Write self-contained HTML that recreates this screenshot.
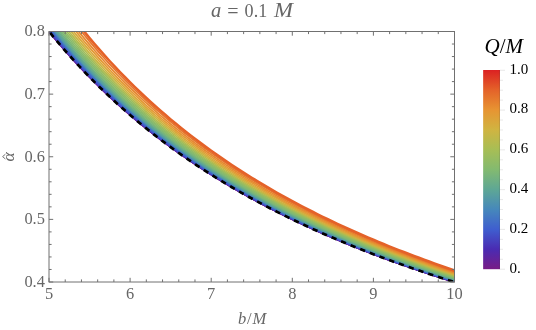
<!DOCTYPE html>
<html><head><meta charset="utf-8"><title>plot</title>
<style>
html,body{margin:0;padding:0;background:#fff;}
body{width:536px;height:330px;overflow:hidden;font-family:"Liberation Serif",serif;}
svg{display:block;will-change:transform;}
text{font-family:"Liberation Serif",serif;}
</style></head><body>
<svg width="536" height="330" viewBox="0 0 536 330">
<defs>
<clipPath id="pc"><rect x="49.00" y="31.50" width="405.50" height="250.50"/></clipPath>
<linearGradient id="cb" x1="0" y1="1" x2="0" y2="0">
<stop offset="0.00" stop-color="#781c86"/><stop offset="0.10" stop-color="#4a2bb2"/><stop offset="0.20" stop-color="#3f5ecf"/><stop offset="0.30" stop-color="#4688bb"/><stop offset="0.40" stop-color="#5ea795"/><stop offset="0.50" stop-color="#83ba70"/><stop offset="0.60" stop-color="#a7be55"/><stop offset="0.70" stop-color="#d0b441"/><stop offset="0.80" stop-color="#e79432"/><stop offset="0.90" stop-color="#e46229"/><stop offset="1.00" stop-color="#db2122"/></linearGradient>
</defs>
<rect x="0" y="0" width="536" height="330" fill="#ffffff"/>
<g clip-path="url(#pc)" fill="none" stroke-linejoin="round">
<path d="M49.00 31.50 L54.07 37.69 L59.14 43.72 L64.21 49.61 L69.28 55.36 L74.34 60.97 L79.41 66.45 L84.48 71.81 L89.55 77.05 L94.62 82.16 L99.69 87.17 L104.76 92.06 L109.83 96.85 L114.89 101.53 L119.96 106.12 L125.03 110.61 L130.10 115.00 L135.17 119.30 L140.24 123.52 L145.31 127.65 L150.38 131.70 L155.44 135.67 L160.51 139.56 L165.58 143.37 L170.65 147.12 L175.72 150.79 L180.79 154.39 L185.86 157.92 L190.93 161.39 L195.99 164.79 L201.06 168.14 L206.13 171.42 L211.20 174.64 L216.27 177.81 L221.34 180.92 L226.41 183.98 L231.47 186.98 L236.54 189.94 L241.61 192.84 L246.68 195.69 L251.75 198.50 L256.82 201.26 L261.89 203.98 L266.96 206.65 L272.02 209.27 L277.09 211.86 L282.16 214.40 L287.23 216.91 L292.30 219.38 L297.37 221.80 L302.44 224.19 L307.51 226.55 L312.57 228.86 L317.64 231.15 L322.71 233.40 L327.78 235.61 L332.85 237.79 L337.92 239.95 L342.99 242.07 L348.06 244.15 L353.12 246.21 L358.19 248.24 L363.26 250.25 L368.33 252.22 L373.40 254.17 L378.47 256.09 L383.54 257.98 L388.61 259.85 L393.68 261.69 L398.74 263.51 L403.81 265.30 L408.88 267.07 L413.95 268.82 L419.02 270.54 L424.09 272.24 L429.16 273.92 L434.23 275.58 L439.29 277.21 L444.36 278.83 L449.43 280.42 L454.50 282.00" stroke="#781c86" stroke-width="1.70"/>
<path d="M49.00 31.46 L54.07 37.65 L59.14 43.68 L64.21 49.57 L69.28 55.32 L74.34 60.94 L79.41 66.42 L84.48 71.78 L89.55 77.01 L94.62 82.13 L99.69 87.14 L104.76 92.03 L109.83 96.82 L114.89 101.50 L119.96 106.09 L125.03 110.58 L130.10 114.97 L135.17 119.28 L140.24 123.49 L145.31 127.63 L150.38 131.67 L155.44 135.64 L160.51 139.53 L165.58 143.35 L170.65 147.09 L175.72 150.76 L180.79 154.36 L185.86 157.90 L190.93 161.37 L195.99 164.77 L201.06 168.12 L206.13 171.40 L211.20 174.62 L216.27 177.79 L221.34 180.90 L226.41 183.96 L231.47 186.96 L236.54 189.92 L241.61 192.82 L246.68 195.68 L251.75 198.48 L256.82 201.24 L261.89 203.96 L266.96 206.63 L272.02 209.26 L277.09 211.84 L282.16 214.39 L287.23 216.89 L292.30 219.36 L297.37 221.79 L302.44 224.18 L307.51 226.53 L312.57 228.85 L317.64 231.13 L322.71 233.38 L327.78 235.60 L332.85 237.78 L337.92 239.93 L342.99 242.05 L348.06 244.14 L353.12 246.20 L358.19 248.23 L363.26 250.23 L368.33 252.21 L373.40 254.15 L378.47 256.07 L383.54 257.97 L388.61 259.84 L393.68 261.68 L398.74 263.50 L403.81 265.29 L408.88 267.06 L413.95 268.80 L419.02 270.53 L424.09 272.23 L429.16 273.91 L434.23 275.57 L439.29 277.20 L444.36 278.82 L449.43 280.41 L454.50 281.99" stroke="#761c88" stroke-width="1.70"/>
<path d="M49.00 31.32 L54.07 37.51 L59.14 43.55 L64.21 49.44 L69.28 55.19 L74.34 60.81 L79.41 66.30 L84.48 71.66 L89.55 76.89 L94.62 82.02 L99.69 87.02 L104.76 91.92 L109.83 96.71 L114.89 101.40 L119.96 105.99 L125.03 110.48 L130.10 114.87 L135.17 119.18 L140.24 123.40 L145.31 127.53 L150.38 131.58 L155.44 135.55 L160.51 139.45 L165.58 143.26 L170.65 147.01 L175.72 150.68 L180.79 154.28 L185.86 157.82 L190.93 161.29 L195.99 164.70 L201.06 168.04 L206.13 171.33 L211.20 174.55 L216.27 177.72 L221.34 180.83 L226.41 183.89 L231.47 186.90 L236.54 189.85 L241.61 192.76 L246.68 195.61 L251.75 198.42 L256.82 201.18 L261.89 203.90 L266.96 206.57 L272.02 209.20 L277.09 211.79 L282.16 214.33 L287.23 216.84 L292.30 219.30 L297.37 221.73 L302.44 224.12 L307.51 226.48 L312.57 228.80 L317.64 231.08 L322.71 233.33 L327.78 235.55 L332.85 237.73 L337.92 239.88 L342.99 242.00 L348.06 244.10 L353.12 246.16 L358.19 248.19 L363.26 250.19 L368.33 252.16 L373.40 254.11 L378.47 256.03 L383.54 257.93 L388.61 259.79 L393.68 261.64 L398.74 263.45 L403.81 265.25 L408.88 267.02 L413.95 268.77 L419.02 270.49 L424.09 272.19 L429.16 273.87 L434.23 275.53 L439.29 277.17 L444.36 278.78 L449.43 280.38 L454.50 281.96" stroke="#6f1f8f" stroke-width="1.70"/>
<path d="M49.00 31.05 L54.07 37.25 L59.14 43.29 L64.21 49.19 L69.28 54.95 L74.34 60.58 L79.41 66.07 L84.48 71.43 L89.55 76.68 L94.62 81.80 L99.69 86.82 L104.76 91.72 L109.83 96.51 L114.89 101.20 L119.96 105.80 L125.03 110.29 L130.10 114.69 L135.17 119.00 L140.24 123.23 L145.31 127.36 L150.38 131.42 L155.44 135.39 L160.51 139.29 L165.58 143.11 L170.65 146.85 L175.72 150.53 L180.79 154.14 L185.86 157.67 L190.93 161.15 L195.99 164.56 L201.06 167.90 L206.13 171.19 L211.20 174.42 L216.27 177.59 L221.34 180.70 L226.41 183.77 L231.47 186.77 L236.54 189.73 L241.61 192.64 L246.68 195.49 L251.75 198.30 L256.82 201.07 L261.89 203.79 L266.96 206.46 L272.02 209.09 L277.09 211.68 L282.16 214.23 L287.23 216.74 L292.30 219.20 L297.37 221.63 L302.44 224.03 L307.51 226.38 L312.57 228.70 L317.64 230.99 L322.71 233.24 L327.78 235.46 L332.85 237.64 L337.92 239.80 L342.99 241.92 L348.06 244.01 L353.12 246.07 L358.19 248.10 L363.26 250.11 L368.33 252.08 L373.40 254.03 L378.47 255.95 L383.54 257.85 L388.61 259.72 L393.68 261.56 L398.74 263.38 L403.81 265.18 L408.88 266.95 L413.95 268.69 L419.02 270.42 L424.09 272.12 L429.16 273.80 L434.23 275.46 L439.29 277.10 L444.36 278.72 L449.43 280.31 L454.50 281.89" stroke="#62239b" stroke-width="1.70"/>
<path d="M49.00 30.66 L54.07 36.87 L59.14 42.92 L64.21 48.83 L69.28 54.60 L74.34 60.23 L79.41 65.73 L84.48 71.10 L89.55 76.35 L94.62 81.49 L99.69 86.51 L104.76 91.41 L109.83 96.22 L114.89 100.91 L119.96 105.51 L125.03 110.01 L130.10 114.42 L135.17 118.74 L140.24 122.97 L145.31 127.11 L150.38 131.17 L155.44 135.15 L160.51 139.05 L165.58 142.87 L170.65 146.62 L175.72 150.30 L180.79 153.91 L185.86 157.46 L190.93 160.93 L195.99 164.35 L201.06 167.70 L206.13 170.99 L211.20 174.22 L216.27 177.39 L221.34 180.51 L226.41 183.58 L231.47 186.59 L236.54 189.55 L241.61 192.46 L246.68 195.32 L251.75 198.13 L256.82 200.90 L261.89 203.62 L266.96 206.30 L272.02 208.93 L277.09 211.52 L282.16 214.07 L287.23 216.58 L292.30 219.05 L297.37 221.48 L302.44 223.88 L307.51 226.24 L312.57 228.56 L317.64 230.85 L322.71 233.10 L327.78 235.32 L332.85 237.51 L337.92 239.66 L342.99 241.79 L348.06 243.88 L353.12 245.94 L358.19 247.98 L363.26 249.98 L368.33 251.96 L373.40 253.91 L378.47 255.84 L383.54 257.73 L388.61 259.60 L393.68 261.45 L398.74 263.27 L403.81 265.07 L408.88 266.84 L413.95 268.59 L419.02 270.31 L424.09 272.02 L429.16 273.70 L434.23 275.36 L439.29 277.00 L444.36 278.62 L449.43 280.22 L454.50 281.79" stroke="#4f2aae" stroke-width="1.70"/>
<path d="M49.00 30.13 L54.07 36.35 L59.14 42.41 L64.21 48.33 L69.28 54.11 L74.34 59.76 L79.41 65.27 L84.48 70.65 L89.55 75.92 L94.62 81.06 L99.69 86.09 L104.76 91.01 L109.83 95.82 L114.89 100.52 L119.96 105.13 L125.03 109.64 L130.10 114.05 L135.17 118.38 L140.24 122.61 L145.31 126.76 L150.38 130.83 L155.44 134.82 L160.51 138.72 L165.58 142.55 L170.65 146.31 L175.72 150.00 L180.79 153.61 L185.86 157.16 L190.93 160.64 L195.99 164.06 L201.06 167.42 L206.13 170.71 L211.20 173.95 L216.27 177.13 L221.34 180.25 L226.41 183.32 L231.47 186.34 L236.54 189.30 L241.61 192.22 L246.68 195.08 L251.75 197.90 L256.82 200.67 L261.89 203.39 L266.96 206.07 L272.02 208.71 L277.09 211.31 L282.16 213.86 L287.23 216.37 L292.30 218.85 L297.37 221.28 L302.44 223.68 L307.51 226.04 L312.57 228.37 L317.64 230.66 L322.71 232.91 L327.78 235.14 L332.85 237.33 L337.92 239.49 L342.99 241.61 L348.06 243.71 L353.12 245.77 L358.19 247.81 L363.26 249.82 L368.33 251.80 L373.40 253.75 L378.47 255.68 L383.54 257.57 L388.61 259.45 L393.68 261.30 L398.74 263.12 L403.81 264.92 L408.88 266.69 L413.95 268.44 L419.02 270.17 L424.09 271.88 L429.16 273.56 L434.23 275.22 L439.29 276.86 L444.36 278.48 L449.43 280.08 L454.50 281.66" stroke="#4542bf" stroke-width="1.70"/>
<path d="M49.00 29.45 L54.07 35.68 L59.14 41.77 L64.21 47.71 L69.28 53.50 L74.34 59.16 L79.41 64.68 L84.48 70.08 L89.55 75.36 L94.62 80.51 L99.69 85.55 L104.76 90.48 L109.83 95.31 L114.89 100.02 L119.96 104.64 L125.03 109.16 L130.10 113.59 L135.17 117.92 L140.24 122.17 L145.31 126.32 L150.38 130.40 L155.44 134.39 L160.51 138.31 L165.58 142.15 L170.65 145.91 L175.72 149.61 L180.79 153.23 L185.86 156.79 L190.93 160.28 L195.99 163.70 L201.06 167.07 L206.13 170.37 L211.20 173.61 L216.27 176.80 L221.34 179.92 L226.41 183.00 L231.47 186.02 L236.54 188.99 L241.61 191.91 L246.68 194.78 L251.75 197.60 L256.82 200.38 L261.89 203.11 L266.96 205.79 L272.02 208.43 L277.09 211.03 L282.16 213.59 L287.23 216.11 L292.30 218.59 L297.37 221.03 L302.44 223.43 L307.51 225.79 L312.57 228.12 L317.64 230.42 L322.71 232.68 L327.78 234.90 L332.85 237.10 L337.92 239.26 L342.99 241.39 L348.06 243.49 L353.12 245.56 L358.19 247.60 L363.26 249.61 L368.33 251.59 L373.40 253.55 L378.47 255.47 L383.54 257.38 L388.61 259.25 L393.68 261.10 L398.74 262.93 L403.81 264.73 L408.88 266.50 L413.95 268.26 L419.02 269.99 L424.09 271.70 L429.16 273.38 L434.23 275.05 L439.29 276.69 L444.36 278.31 L449.43 279.92 L454.50 281.50" stroke="#434dc5" stroke-width="1.70"/>
<path d="M49.00 28.62 L54.07 34.88 L59.14 40.98 L64.21 46.94 L69.28 52.75 L74.34 58.43 L79.41 63.97 L84.48 69.39 L89.55 74.68 L94.62 79.85 L99.69 84.90 L104.76 89.85 L109.83 94.68 L114.89 99.42 L119.96 104.05 L125.03 108.58 L130.10 113.02 L135.17 117.36 L140.24 121.62 L145.31 125.79 L150.38 129.87 L155.44 133.88 L160.51 137.81 L165.58 141.66 L170.65 145.43 L175.72 149.13 L180.79 152.77 L185.86 156.33 L190.93 159.83 L195.99 163.26 L201.06 166.63 L206.13 169.94 L211.20 173.19 L216.27 176.39 L221.34 179.52 L226.41 182.60 L231.47 185.63 L236.54 188.61 L241.61 191.53 L246.68 194.41 L251.75 197.24 L256.82 200.02 L261.89 202.76 L266.96 205.45 L272.02 208.09 L277.09 210.70 L282.16 213.26 L287.23 215.79 L292.30 218.27 L297.37 220.71 L302.44 223.12 L307.51 225.49 L312.57 227.82 L317.64 230.12 L322.71 232.39 L327.78 234.62 L332.85 236.82 L337.92 238.98 L342.99 241.11 L348.06 243.22 L353.12 245.29 L358.19 247.33 L363.26 249.35 L368.33 251.34 L373.40 253.29 L378.47 255.23 L383.54 257.13 L388.61 259.01 L393.68 260.86 L398.74 262.69 L403.81 264.50 L408.88 266.28 L413.95 268.03 L419.02 269.77 L424.09 271.48 L429.16 273.17 L434.23 274.83 L439.29 276.48 L444.36 278.11 L449.43 279.71 L454.50 281.29" stroke="#4157ca" stroke-width="1.70"/>
<path d="M49.00 27.64 L54.07 33.92 L59.14 40.05 L64.21 46.03 L69.28 51.86 L74.34 57.56 L79.41 63.12 L84.48 68.56 L89.55 73.87 L94.62 79.06 L99.69 84.13 L104.76 89.09 L109.83 93.95 L114.89 98.69 L119.96 103.34 L125.03 107.89 L130.10 112.34 L135.17 116.70 L140.24 120.97 L145.31 125.15 L150.38 129.25 L155.44 133.27 L160.51 137.21 L165.58 141.07 L170.65 144.85 L175.72 148.57 L180.79 152.21 L185.86 155.79 L190.93 159.29 L195.99 162.74 L201.06 166.12 L206.13 169.44 L211.20 172.70 L216.27 175.90 L221.34 179.04 L226.41 182.13 L231.47 185.17 L236.54 188.16 L241.61 191.09 L246.68 193.97 L251.75 196.81 L256.82 199.60 L261.89 202.34 L266.96 205.04 L272.02 207.69 L277.09 210.30 L282.16 212.87 L287.23 215.40 L292.30 217.89 L297.37 220.34 L302.44 222.75 L307.51 225.13 L312.57 227.47 L317.64 229.77 L322.71 232.04 L327.78 234.28 L332.85 236.48 L337.92 238.65 L342.99 240.79 L348.06 242.90 L353.12 244.98 L358.19 247.02 L363.26 249.04 L368.33 251.03 L373.40 253.00 L378.47 254.93 L383.54 256.84 L388.61 258.72 L393.68 260.58 L398.74 262.41 L403.81 264.22 L408.88 266.01 L413.95 267.77 L419.02 269.50 L424.09 271.22 L429.16 272.91 L434.23 274.58 L439.29 276.23 L444.36 277.86 L449.43 279.47 L454.50 281.05" stroke="#4062cd" stroke-width="1.70"/>
<path d="M49.00 26.49 L54.07 32.80 L59.14 38.96 L64.21 44.97 L69.28 50.83 L74.34 56.55 L79.41 62.14 L84.48 67.59 L89.55 72.93 L94.62 78.14 L99.69 83.23 L104.76 88.21 L109.83 93.09 L114.89 97.85 L119.96 102.52 L125.03 107.08 L130.10 111.55 L135.17 115.93 L140.24 120.21 L145.31 124.41 L150.38 128.53 L155.44 132.56 L160.51 136.51 L165.58 140.39 L170.65 144.19 L175.72 147.91 L180.79 151.57 L185.86 155.16 L190.93 158.68 L195.99 162.13 L201.06 165.52 L206.13 168.85 L211.20 172.12 L216.27 175.33 L221.34 178.49 L226.41 181.59 L231.47 184.64 L236.54 187.63 L241.61 190.57 L246.68 193.46 L251.75 196.31 L256.82 199.11 L261.89 201.86 L266.96 204.56 L272.02 207.22 L277.09 209.84 L282.16 212.42 L287.23 214.96 L292.30 217.45 L297.37 219.91 L302.44 222.33 L307.51 224.71 L312.57 227.06 L317.64 229.37 L322.71 231.64 L327.78 233.88 L332.85 236.09 L337.92 238.27 L342.99 240.41 L348.06 242.53 L353.12 244.61 L358.19 246.66 L363.26 248.69 L368.33 250.68 L373.40 252.65 L378.47 254.59 L383.54 256.50 L388.61 258.39 L393.68 260.25 L398.74 262.09 L403.81 263.90 L408.88 265.69 L413.95 267.46 L419.02 269.20 L424.09 270.92 L429.16 272.61 L434.23 274.29 L439.29 275.94 L444.36 277.57 L449.43 279.18 L454.50 280.77" stroke="#4270c7" stroke-width="1.70"/>
<path d="M49.00 25.19 L54.07 31.53 L59.14 37.72 L64.21 43.75 L69.28 49.65 L74.34 55.40 L79.41 61.01 L84.48 66.49 L89.55 71.85 L94.62 77.09 L99.69 82.21 L104.76 87.21 L109.83 92.11 L114.89 96.89 L119.96 101.58 L125.03 106.16 L130.10 110.65 L135.17 115.05 L140.24 119.35 L145.31 123.57 L150.38 127.70 L155.44 131.75 L160.51 135.72 L165.58 139.61 L170.65 143.42 L175.72 147.16 L180.79 150.83 L185.86 154.43 L190.93 157.97 L195.99 161.44 L201.06 164.84 L206.13 168.18 L211.20 171.47 L216.27 174.69 L221.34 177.86 L226.41 180.97 L231.47 184.02 L236.54 187.03 L241.61 189.98 L246.68 192.88 L251.75 195.74 L256.82 198.54 L261.89 201.30 L266.96 204.02 L272.02 206.69 L277.09 209.32 L282.16 211.90 L287.23 214.45 L292.30 216.95 L297.37 219.42 L302.44 221.84 L307.51 224.23 L312.57 226.59 L317.64 228.90 L322.71 231.19 L327.78 233.43 L332.85 235.65 L337.92 237.83 L342.99 239.98 L348.06 242.10 L353.12 244.19 L358.19 246.25 L363.26 248.28 L368.33 250.28 L373.40 252.26 L378.47 254.20 L383.54 256.12 L388.61 258.01 L393.68 259.88 L398.74 261.72 L403.81 263.54 L408.88 265.33 L413.95 267.10 L419.02 268.85 L424.09 270.57 L429.16 272.27 L434.23 273.95 L439.29 275.61 L444.36 277.24 L449.43 278.86 L454.50 280.45" stroke="#4687bc" stroke-width="1.70"/>
<path d="M49.00 23.71 L54.07 30.10 L59.14 36.32 L64.21 42.39 L69.28 48.31 L74.34 54.10 L79.41 59.74 L84.48 65.25 L89.55 70.64 L94.62 75.91 L99.69 81.05 L104.76 86.08 L109.83 91.00 L114.89 95.81 L119.96 100.52 L125.03 105.13 L130.10 109.64 L135.17 114.05 L140.24 118.38 L145.31 122.62 L150.38 126.77 L155.44 130.83 L160.51 134.82 L165.58 138.73 L170.65 142.56 L175.72 146.32 L180.79 150.00 L185.86 153.62 L190.93 157.17 L195.99 160.65 L201.06 164.07 L206.13 167.43 L211.20 170.72 L216.27 173.96 L221.34 177.14 L226.41 180.26 L231.47 183.33 L236.54 186.35 L241.61 189.31 L246.68 192.23 L251.75 195.09 L256.82 197.91 L261.89 200.68 L266.96 203.40 L272.02 206.09 L277.09 208.72 L282.16 211.32 L287.23 213.87 L292.30 216.38 L297.37 218.86 L302.44 221.29 L307.51 223.69 L312.57 226.05 L317.64 228.38 L322.71 230.67 L327.78 232.93 L332.85 235.15 L337.92 237.34 L342.99 239.50 L348.06 241.62 L353.12 243.72 L358.19 245.78 L363.26 247.82 L368.33 249.83 L373.40 251.81 L378.47 253.76 L383.54 255.69 L388.61 257.59 L393.68 259.46 L398.74 261.31 L403.81 263.13 L408.88 264.93 L413.95 266.70 L419.02 268.45 L424.09 270.18 L429.16 271.89 L434.23 273.57 L439.29 275.23 L444.36 276.87 L449.43 278.49 L454.50 280.09" stroke="#5399a7" stroke-width="1.70"/>
<path d="M49.00 22.07 L54.07 28.49 L59.14 34.76 L64.21 40.87 L69.28 46.83 L74.34 52.64 L79.41 58.32 L84.48 63.87 L89.55 69.29 L94.62 74.58 L99.69 79.76 L104.76 84.82 L109.83 89.77 L114.89 94.61 L119.96 99.34 L125.03 103.97 L130.10 108.51 L135.17 112.95 L140.24 117.29 L145.31 121.55 L150.38 125.73 L155.44 129.81 L160.51 133.82 L165.58 137.75 L170.65 141.60 L175.72 145.38 L180.79 149.08 L185.86 152.71 L190.93 156.28 L195.99 159.78 L201.06 163.21 L206.13 166.59 L211.20 169.90 L216.27 173.15 L221.34 176.34 L226.41 179.48 L231.47 182.56 L236.54 185.59 L241.61 188.57 L246.68 191.50 L251.75 194.37 L256.82 197.20 L261.89 199.98 L266.96 202.72 L272.02 205.41 L277.09 208.06 L282.16 210.67 L287.23 213.23 L292.30 215.75 L297.37 218.24 L302.44 220.68 L307.51 223.09 L312.57 225.46 L317.64 227.80 L322.71 230.09 L327.78 232.36 L332.85 234.59 L337.92 236.79 L342.99 238.95 L348.06 241.09 L353.12 243.19 L358.19 245.27 L363.26 247.31 L368.33 249.33 L373.40 251.31 L378.47 253.27 L383.54 255.20 L388.61 257.11 L393.68 258.99 L398.74 260.84 L403.81 262.67 L408.88 264.48 L413.95 266.26 L419.02 268.01 L424.09 269.75 L429.16 271.46 L434.23 273.15 L439.29 274.82 L444.36 276.46 L449.43 278.09 L454.50 279.69" stroke="#5aa29c" stroke-width="1.70"/>
<path d="M49.00 20.26 L54.07 26.72 L59.14 33.03 L64.21 39.18 L69.28 45.18 L74.34 51.04 L79.41 56.76 L84.48 62.34 L89.55 67.80 L94.62 73.13 L99.69 78.33 L104.76 83.42 L109.83 88.40 L114.89 93.27 L119.96 98.03 L125.03 102.70 L130.10 107.26 L135.17 111.72 L140.24 116.10 L145.31 120.38 L150.38 124.57 L155.44 128.69 L160.51 132.72 L165.58 136.66 L170.65 140.54 L175.72 144.33 L180.79 148.06 L185.86 151.71 L190.93 155.30 L195.99 158.81 L201.06 162.27 L206.13 165.66 L211.20 168.98 L216.27 172.25 L221.34 175.46 L226.41 178.61 L231.47 181.71 L236.54 184.76 L241.61 187.75 L246.68 190.69 L251.75 193.58 L256.82 196.42 L261.89 199.22 L266.96 201.97 L272.02 204.67 L277.09 207.33 L282.16 209.95 L287.23 212.52 L292.30 215.06 L297.37 217.55 L302.44 220.01 L307.51 222.42 L312.57 224.81 L317.64 227.15 L322.71 229.46 L327.78 231.73 L332.85 233.97 L337.92 236.18 L342.99 238.36 L348.06 240.50 L353.12 242.61 L358.19 244.69 L363.26 246.74 L368.33 248.77 L373.40 250.76 L378.47 252.73 L383.54 254.67 L388.61 256.58 L393.68 258.47 L398.74 260.33 L403.81 262.16 L408.88 263.98 L413.95 265.76 L419.02 267.53 L424.09 269.27 L429.16 270.98 L434.23 272.68 L439.29 274.35 L444.36 276.01 L449.43 277.64 L454.50 279.25" stroke="#64aa8f" stroke-width="1.70"/>
<path d="M49.00 18.26 L54.07 24.78 L59.14 31.14 L64.21 37.34 L69.28 43.38 L74.34 49.28 L79.41 55.04 L84.48 60.67 L89.55 66.16 L94.62 71.53 L99.69 76.77 L104.76 81.90 L109.83 86.91 L114.89 91.81 L119.96 96.60 L125.03 101.29 L130.10 105.89 L135.17 110.38 L140.24 114.78 L145.31 119.09 L150.38 123.31 L155.44 127.45 L160.51 131.50 L165.58 135.48 L170.65 139.37 L175.72 143.19 L180.79 146.94 L185.86 150.61 L190.93 154.22 L195.99 157.75 L201.06 161.23 L206.13 164.63 L211.20 167.98 L216.27 171.27 L221.34 174.49 L226.41 177.66 L231.47 180.78 L236.54 183.84 L241.61 186.85 L246.68 189.80 L251.75 192.71 L256.82 195.56 L261.89 198.37 L266.96 201.14 L272.02 203.85 L277.09 206.53 L282.16 209.16 L287.23 211.74 L292.30 214.29 L297.37 216.80 L302.44 219.27 L307.51 221.69 L312.57 224.09 L317.64 226.44 L322.71 228.76 L327.78 231.05 L332.85 233.30 L337.92 235.51 L342.99 237.70 L348.06 239.85 L353.12 241.97 L358.19 244.06 L363.26 246.12 L368.33 248.16 L373.40 250.16 L378.47 252.13 L383.54 254.08 L388.61 256.00 L393.68 257.90 L398.74 259.77 L403.81 261.61 L408.88 263.43 L413.95 265.22 L419.02 266.99 L424.09 268.74 L429.16 270.46 L434.23 272.17 L439.29 273.85 L444.36 275.51 L449.43 277.14 L454.50 278.76" stroke="#71b182" stroke-width="1.70"/>
<path d="M49.00 16.10 L54.07 22.67 L59.14 29.08 L64.21 35.32 L69.28 41.42 L74.34 47.37 L79.41 53.17 L84.48 58.84 L89.55 64.37 L94.62 69.78 L99.69 75.07 L104.76 80.23 L109.83 85.28 L114.89 90.21 L119.96 95.04 L125.03 99.77 L130.10 104.39 L135.17 108.92 L140.24 113.35 L145.31 117.69 L150.38 121.94 L155.44 126.10 L160.51 130.18 L165.58 134.18 L170.65 138.10 L175.72 141.95 L180.79 145.72 L185.86 149.41 L190.93 153.04 L195.99 156.60 L201.06 160.09 L206.13 163.52 L211.20 166.89 L216.27 170.19 L221.34 173.44 L226.41 176.63 L231.47 179.76 L236.54 182.84 L241.61 185.86 L246.68 188.84 L251.75 191.76 L256.82 194.63 L261.89 197.46 L266.96 200.23 L272.02 202.97 L277.09 205.65 L282.16 208.30 L287.23 210.90 L292.30 213.46 L297.37 215.98 L302.44 218.46 L307.51 220.90 L312.57 223.30 L317.64 225.67 L322.71 228.00 L327.78 230.30 L332.85 232.56 L337.92 234.79 L342.99 236.98 L348.06 239.15 L353.12 241.28 L358.19 243.38 L363.26 245.45 L368.33 247.49 L373.40 249.50 L378.47 251.49 L383.54 253.44 L388.61 255.37 L393.68 257.28 L398.74 259.15 L403.81 261.00 L408.88 262.83 L413.95 264.63 L419.02 266.41 L424.09 268.17 L429.16 269.90 L434.23 271.61 L439.29 273.29 L444.36 274.96 L449.43 276.60 L454.50 278.23" stroke="#7db777" stroke-width="1.70"/>
<path d="M49.00 13.74 L54.07 20.38 L59.14 26.84 L64.21 33.15 L69.28 39.29 L74.34 45.29 L79.41 51.15 L84.48 56.86 L89.55 62.44 L94.62 67.89 L99.69 73.22 L104.76 78.42 L109.83 83.51 L114.89 88.49 L119.96 93.35 L125.03 98.11 L130.10 102.77 L135.17 107.33 L140.24 111.80 L145.31 116.17 L150.38 120.45 L155.44 124.64 L160.51 128.75 L165.58 132.78 L170.65 136.73 L175.72 140.60 L180.79 144.39 L185.86 148.12 L190.93 151.77 L195.99 155.35 L201.06 158.87 L206.13 162.32 L211.20 165.71 L216.27 169.03 L221.34 172.30 L226.41 175.51 L231.47 178.66 L236.54 181.76 L241.61 184.80 L246.68 187.79 L251.75 190.73 L256.82 193.62 L261.89 196.46 L266.96 199.25 L272.02 202.00 L277.09 204.71 L282.16 207.36 L287.23 209.98 L292.30 212.56 L297.37 215.09 L302.44 217.58 L307.51 220.04 L312.57 222.46 L317.64 224.84 L322.71 227.18 L327.78 229.49 L332.85 231.76 L337.92 234.00 L342.99 236.21 L348.06 238.38 L353.12 240.52 L358.19 242.64 L363.26 244.72 L368.33 246.77 L373.40 248.79 L378.47 250.78 L383.54 252.75 L388.61 254.69 L393.68 256.60 L398.74 258.49 L403.81 260.35 L408.88 262.18 L413.95 264.00 L419.02 265.78 L424.09 267.55 L429.16 269.28 L434.23 271.00 L439.29 272.70 L444.36 274.37 L449.43 276.02 L454.50 277.65" stroke="#86ba6e" stroke-width="1.70"/>
<path d="M49.00 11.21 L54.07 17.91 L59.14 24.43 L64.21 30.80 L69.28 37.00 L74.34 43.06 L79.41 48.96 L84.48 54.73 L89.55 60.36 L94.62 65.86 L99.69 71.23 L104.76 76.48 L109.83 81.61 L114.89 86.63 L119.96 91.53 L125.03 96.33 L130.10 101.03 L135.17 105.63 L140.24 110.12 L145.31 114.53 L150.38 118.84 L155.44 123.07 L160.51 127.21 L165.58 131.27 L170.65 135.25 L175.72 139.14 L180.79 142.97 L185.86 146.72 L190.93 150.39 L195.99 154.00 L201.06 157.54 L206.13 161.02 L211.20 164.43 L216.27 167.78 L221.34 171.07 L226.41 174.30 L231.47 177.47 L236.54 180.59 L241.61 183.65 L246.68 186.66 L251.75 189.62 L256.82 192.53 L261.89 195.39 L266.96 198.20 L272.02 200.96 L277.09 203.68 L282.16 206.36 L287.23 208.99 L292.30 211.58 L297.37 214.13 L302.44 216.64 L307.51 219.11 L312.57 221.54 L317.64 223.93 L322.71 226.29 L327.78 228.61 L332.85 230.90 L337.92 233.15 L342.99 235.37 L348.06 237.56 L353.12 239.71 L358.19 241.84 L363.26 243.93 L368.33 245.99 L373.40 248.02 L378.47 250.03 L383.54 252.01 L388.61 253.95 L393.68 255.88 L398.74 257.77 L403.81 259.64 L408.88 261.49 L413.95 263.31 L419.02 265.10 L424.09 266.88 L429.16 268.62 L434.23 270.35 L439.29 272.05 L444.36 273.73 L449.43 275.39 L454.50 277.03" stroke="#90bb67" stroke-width="1.70"/>
<path d="M49.00 8.49 L54.07 15.26 L59.14 21.85 L64.21 28.28 L69.28 34.54 L74.34 40.65 L79.41 46.62 L84.48 52.44 L89.55 58.12 L94.62 63.67 L99.69 69.09 L104.76 74.39 L109.83 79.57 L114.89 84.63 L119.96 89.58 L125.03 94.42 L130.10 99.16 L135.17 103.79 L140.24 108.33 L145.31 112.77 L150.38 117.12 L155.44 121.38 L160.51 125.56 L165.58 129.65 L170.65 133.65 L175.72 137.58 L180.79 141.44 L185.86 145.22 L190.93 148.92 L195.99 152.56 L201.06 156.12 L206.13 159.63 L211.20 163.06 L216.27 166.44 L221.34 169.75 L226.41 173.00 L231.47 176.20 L236.54 179.34 L241.61 182.42 L246.68 185.45 L251.75 188.43 L256.82 191.36 L261.89 194.24 L266.96 197.07 L272.02 199.85 L277.09 202.59 L282.16 205.28 L287.23 207.93 L292.30 210.54 L297.37 213.10 L302.44 215.63 L307.51 218.11 L312.57 220.56 L317.64 222.97 L322.71 225.34 L327.78 227.68 L332.85 229.98 L337.92 232.24 L342.99 234.47 L348.06 236.67 L353.12 238.84 L358.19 240.98 L363.26 243.08 L368.33 245.16 L373.40 247.20 L378.47 249.22 L383.54 251.20 L388.61 253.16 L393.68 255.10 L398.74 257.00 L403.81 258.88 L408.88 260.74 L413.95 262.57 L419.02 264.37 L424.09 266.16 L429.16 267.91 L434.23 269.65 L439.29 271.36 L444.36 273.05 L449.43 274.72 L454.50 276.37" stroke="#9ebd5c" stroke-width="1.70"/>
<path d="M49.00 5.59 L54.07 12.43 L59.14 19.09 L64.21 25.58 L69.28 31.91 L74.34 38.09 L79.41 44.11 L84.48 49.99 L89.55 55.73 L94.62 61.34 L99.69 66.81 L104.76 72.16 L109.83 77.39 L114.89 82.49 L119.96 87.49 L125.03 92.38 L130.10 97.16 L135.17 101.83 L140.24 106.41 L145.31 110.89 L150.38 115.28 L155.44 119.58 L160.51 123.79 L165.58 127.91 L170.65 131.95 L175.72 135.92 L180.79 139.80 L185.86 143.61 L190.93 147.35 L195.99 151.01 L201.06 154.61 L206.13 158.14 L211.20 161.60 L216.27 165.00 L221.34 168.34 L226.41 171.62 L231.47 174.84 L236.54 178.00 L241.61 181.11 L246.68 184.16 L251.75 187.16 L256.82 190.11 L261.89 193.01 L266.96 195.86 L272.02 198.66 L277.09 201.42 L282.16 204.13 L287.23 206.80 L292.30 209.42 L297.37 212.00 L302.44 214.55 L307.51 217.05 L312.57 219.51 L317.64 221.94 L322.71 224.32 L327.78 226.67 L332.85 228.99 L337.92 231.27 L342.99 233.52 L348.06 235.73 L353.12 237.91 L358.19 240.06 L363.26 242.18 L368.33 244.26 L373.40 246.32 L378.47 248.35 L383.54 250.35 L388.61 252.32 L393.68 254.27 L398.74 256.18 L403.81 258.07 L408.88 259.94 L413.95 261.78 L419.02 263.60 L424.09 265.39 L429.16 267.16 L434.23 268.90 L439.29 270.62 L444.36 272.32 L449.43 274.00 L454.50 275.66" stroke="#b2bb50" stroke-width="1.70"/>
<path d="M49.00 2.49 L54.07 9.41 L59.14 16.15 L64.21 22.71 L69.28 29.11 L74.34 35.36 L79.41 41.44 L84.48 47.39 L89.55 53.19 L94.62 58.85 L99.69 64.38 L104.76 69.78 L109.83 75.06 L114.89 80.22 L119.96 85.27 L125.03 90.20 L130.10 95.02 L135.17 99.75 L140.24 104.37 L145.31 108.89 L150.38 113.32 L155.44 117.66 L160.51 121.90 L165.58 126.06 L170.65 130.14 L175.72 134.14 L180.79 138.06 L185.86 141.90 L190.93 145.67 L195.99 149.37 L201.06 152.99 L206.13 156.55 L211.20 160.04 L216.27 163.47 L221.34 166.83 L226.41 170.14 L231.47 173.38 L236.54 176.57 L241.61 179.70 L246.68 182.78 L251.75 185.80 L256.82 188.78 L261.89 191.70 L266.96 194.57 L272.02 197.39 L277.09 200.17 L282.16 202.90 L287.23 205.59 L292.30 208.23 L297.37 210.83 L302.44 213.39 L307.51 215.91 L312.57 218.39 L317.64 220.84 L322.71 223.24 L327.78 225.61 L332.85 227.94 L337.92 230.23 L342.99 232.49 L348.06 234.72 L353.12 236.92 L358.19 239.08 L363.26 241.21 L368.33 243.31 L373.40 245.38 L378.47 247.42 L383.54 249.44 L388.61 251.42 L393.68 253.38 L398.74 255.31 L403.81 257.21 L408.88 259.09 L413.95 260.94 L419.02 262.77 L424.09 264.57 L429.16 266.35 L434.23 268.10 L439.29 269.83 L444.36 271.54 L449.43 273.23 L454.50 274.90" stroke="#c9b544" stroke-width="1.70"/>
<path d="M49.00 -0.80 L54.07 6.20 L59.14 13.02 L64.21 19.66 L69.28 26.14 L74.34 32.45 L79.41 38.61 L84.48 44.62 L89.55 50.48 L94.62 56.21 L99.69 61.80 L104.76 67.26 L109.83 72.59 L114.89 77.81 L119.96 82.90 L125.03 87.89 L130.10 92.76 L135.17 97.53 L140.24 102.20 L145.31 106.76 L150.38 111.24 L155.44 115.61 L160.51 119.90 L165.58 124.10 L170.65 128.22 L175.72 132.25 L180.79 136.21 L185.86 140.09 L190.93 143.89 L195.99 147.62 L201.06 151.28 L206.13 154.86 L211.20 158.39 L216.27 161.84 L221.34 165.24 L226.41 168.57 L231.47 171.84 L236.54 175.06 L241.61 178.22 L246.68 181.32 L251.75 184.37 L256.82 187.36 L261.89 190.31 L266.96 193.20 L272.02 196.05 L277.09 198.85 L282.16 201.60 L287.23 204.31 L292.30 206.97 L297.37 209.59 L302.44 212.17 L307.51 214.71 L312.57 217.21 L317.64 219.67 L322.71 222.09 L327.78 224.47 L332.85 226.82 L337.92 229.13 L342.99 231.41 L348.06 233.65 L353.12 235.86 L358.19 238.04 L363.26 240.19 L368.33 242.30 L373.40 244.39 L378.47 246.44 L383.54 248.47 L388.61 250.47 L393.68 252.44 L398.74 254.38 L403.81 256.29 L408.88 258.18 L413.95 260.05 L419.02 261.89 L424.09 263.70 L429.16 265.49 L434.23 267.26 L439.29 269.00 L444.36 270.72 L449.43 272.42 L454.50 274.09" stroke="#d8a93c" stroke-width="1.70"/>
<path d="M49.00 -4.28 L54.07 2.81 L59.14 9.71 L64.21 16.44 L69.28 22.99 L74.34 29.38 L79.41 35.61 L84.48 41.69 L89.55 47.62 L94.62 53.41 L99.69 59.06 L104.76 64.58 L109.83 69.98 L114.89 75.25 L119.96 80.40 L125.03 85.44 L130.10 90.36 L135.17 95.18 L140.24 99.90 L145.31 104.51 L150.38 109.03 L155.44 113.45 L160.51 117.78 L165.58 122.03 L170.65 126.18 L175.72 130.26 L180.79 134.25 L185.86 138.16 L190.93 142.00 L195.99 145.77 L201.06 149.46 L206.13 153.08 L211.20 156.64 L216.27 160.12 L221.34 163.55 L226.41 166.91 L231.47 170.21 L236.54 173.45 L241.61 176.64 L246.68 179.77 L251.75 182.84 L256.82 185.86 L261.89 188.83 L266.96 191.75 L272.02 194.62 L277.09 197.44 L282.16 200.22 L287.23 202.95 L292.30 205.63 L297.37 208.28 L302.44 210.88 L307.51 213.43 L312.57 215.95 L317.64 218.43 L322.71 220.87 L327.78 223.27 L332.85 225.64 L337.92 227.97 L342.99 230.26 L348.06 232.52 L353.12 234.75 L358.19 236.94 L363.26 239.10 L368.33 241.23 L373.40 243.33 L378.47 245.40 L383.54 247.44 L388.61 249.46 L393.68 251.44 L398.74 253.40 L403.81 255.32 L408.88 257.23 L413.95 259.10 L419.02 260.95 L424.09 262.78 L429.16 264.58 L434.23 266.36 L439.29 268.11 L444.36 269.84 L449.43 271.55 L454.50 273.24" stroke="#e39934" stroke-width="1.70"/>
<path d="M49.00 -7.95 L54.07 -0.77 L59.14 6.22 L64.21 13.03 L69.28 19.67 L74.34 26.13 L79.41 32.44 L84.48 38.59 L89.55 44.60 L94.62 50.46 L99.69 56.18 L104.76 61.76 L109.83 67.22 L114.89 72.55 L119.96 77.76 L125.03 82.85 L130.10 87.83 L135.17 92.71 L140.24 97.47 L145.31 102.14 L150.38 106.70 L155.44 111.17 L160.51 115.55 L165.58 119.83 L170.65 124.03 L175.72 128.15 L180.79 132.18 L185.86 136.13 L190.93 140.01 L195.99 143.81 L201.06 147.54 L206.13 151.20 L211.20 154.79 L216.27 158.31 L221.34 161.76 L226.41 165.16 L231.47 168.49 L236.54 171.76 L241.61 174.97 L246.68 178.13 L251.75 181.23 L256.82 184.28 L261.89 187.28 L266.96 190.22 L272.02 193.12 L277.09 195.96 L282.16 198.76 L287.23 201.51 L292.30 204.22 L297.37 206.89 L302.44 209.51 L307.51 212.09 L312.57 214.62 L317.64 217.12 L322.71 219.58 L327.78 222.00 L332.85 224.39 L337.92 226.74 L342.99 229.05 L348.06 231.33 L353.12 233.57 L358.19 235.78 L363.26 237.96 L368.33 240.11 L373.40 242.22 L378.47 244.31 L383.54 246.36 L388.61 248.39 L393.68 250.39 L398.74 252.36 L403.81 254.30 L408.88 256.21 L413.95 258.10 L419.02 259.97 L424.09 261.81 L429.16 263.62 L434.23 265.41 L439.29 267.18 L444.36 268.92 L449.43 270.64 L454.50 272.34" stroke="#e68830" stroke-width="1.70"/>
<path d="M49.00 -11.82 L54.07 -4.55 L59.14 2.54 L64.21 9.44 L69.28 16.16 L74.34 22.71 L79.41 29.10 L84.48 35.33 L89.55 41.41 L94.62 47.34 L99.69 53.13 L104.76 58.79 L109.83 64.31 L114.89 69.70 L119.96 74.98 L125.03 80.13 L130.10 85.17 L135.17 90.09 L140.24 94.91 L145.31 99.63 L150.38 104.25 L155.44 108.77 L160.51 113.19 L165.58 117.52 L170.65 121.77 L175.72 125.93 L180.79 130.00 L185.86 134.00 L190.93 137.91 L195.99 141.75 L201.06 145.52 L206.13 149.21 L211.20 152.84 L216.27 156.39 L221.34 159.88 L226.41 163.31 L231.47 166.67 L236.54 169.98 L241.61 173.22 L246.68 176.41 L251.75 179.54 L256.82 182.62 L261.89 185.64 L266.96 188.61 L272.02 191.53 L277.09 194.40 L282.16 197.23 L287.23 200.00 L292.30 202.74 L297.37 205.42 L302.44 208.07 L307.51 210.67 L312.57 213.23 L317.64 215.75 L322.71 218.23 L327.78 220.67 L332.85 223.07 L337.92 225.44 L342.99 227.77 L348.06 230.07 L353.12 232.33 L358.19 234.56 L363.26 236.75 L368.33 238.92 L373.40 241.05 L378.47 243.15 L383.54 245.22 L388.61 247.26 L393.68 249.28 L398.74 251.26 L403.81 253.22 L408.88 255.15 L413.95 257.05 L419.02 258.93 L424.09 260.78 L429.16 262.61 L434.23 264.41 L439.29 266.19 L444.36 267.95 L449.43 269.68 L454.50 271.39" stroke="#e5762c" stroke-width="1.70"/>
<path d="M49.00 -15.89 L54.07 -8.52 L59.14 -1.33 L64.21 5.66 L69.28 12.48 L74.34 19.12 L79.41 25.59 L84.48 31.91 L89.55 38.06 L94.62 44.07 L99.69 49.94 L104.76 55.66 L109.83 61.25 L114.89 66.71 L119.96 72.05 L125.03 77.26 L130.10 82.36 L135.17 87.35 L140.24 92.23 L145.31 97.00 L150.38 101.67 L155.44 106.24 L160.51 110.71 L165.58 115.09 L170.65 119.39 L175.72 123.59 L180.79 127.71 L185.86 131.75 L190.93 135.71 L195.99 139.59 L201.06 143.39 L206.13 147.13 L211.20 150.79 L216.27 154.38 L221.34 157.91 L226.41 161.37 L231.47 164.77 L236.54 168.10 L241.61 171.38 L246.68 174.60 L251.75 177.76 L256.82 180.86 L261.89 183.92 L266.96 186.92 L272.02 189.86 L277.09 192.76 L282.16 195.61 L287.23 198.42 L292.30 201.17 L297.37 203.88 L302.44 206.55 L307.51 209.18 L312.57 211.76 L317.64 214.30 L322.71 216.80 L327.78 219.26 L332.85 221.69 L337.92 224.08 L342.99 226.43 L348.06 228.74 L353.12 231.02 L358.19 233.27 L363.26 235.49 L368.33 237.67 L373.40 239.82 L378.47 241.94 L383.54 244.02 L388.61 246.08 L393.68 248.11 L398.74 250.11 L403.81 252.08 L408.88 254.03 L413.95 255.95 L419.02 257.84 L424.09 259.71 L429.16 261.55 L434.23 263.37 L439.29 265.16 L444.36 266.93 L449.43 268.67 L454.50 270.40" stroke="#e46229" stroke-width="2.60"/>
<path d="M49.00 31.50 L54.07 37.69 L59.14 43.72 L64.21 49.61 L69.28 55.36 L74.34 60.97 L79.41 66.45 L84.48 71.81 L89.55 77.05 L94.62 82.16 L99.69 87.17 L104.76 92.06 L109.83 96.85 L114.89 101.53 L119.96 106.12 L125.03 110.61 L130.10 115.00 L135.17 119.30 L140.24 123.52 L145.31 127.65 L150.38 131.70 L155.44 135.67 L160.51 139.56 L165.58 143.37 L170.65 147.12 L175.72 150.79 L180.79 154.39 L185.86 157.92 L190.93 161.39 L195.99 164.79 L201.06 168.14 L206.13 171.42 L211.20 174.64 L216.27 177.81 L221.34 180.92 L226.41 183.98 L231.47 186.98 L236.54 189.94 L241.61 192.84 L246.68 195.69 L251.75 198.50 L256.82 201.26 L261.89 203.98 L266.96 206.65 L272.02 209.27 L277.09 211.86 L282.16 214.40 L287.23 216.91 L292.30 219.38 L297.37 221.80 L302.44 224.19 L307.51 226.55 L312.57 228.86 L317.64 231.15 L322.71 233.40 L327.78 235.61 L332.85 237.79 L337.92 239.95 L342.99 242.07 L348.06 244.15 L353.12 246.21 L358.19 248.24 L363.26 250.25 L368.33 252.22 L373.40 254.17 L378.47 256.09 L383.54 257.98 L388.61 259.85 L393.68 261.69 L398.74 263.51 L403.81 265.30 L408.88 267.07 L413.95 268.82 L419.02 270.54 L424.09 272.24 L429.16 273.92 L434.23 275.58 L439.29 277.21 L444.36 278.83 L449.43 280.42 L454.50 282.00" stroke="#000" stroke-width="2.7" stroke-dasharray="5.3 5.03" stroke-dashoffset="8.43"/>
</g>
<g stroke="#707070" stroke-width="1" fill="none">
<rect x="49.00" y="31.50" width="405.50" height="250.50"/>
<path d="M49.00 282.00 v-4.20 M49.00 31.50 v4.20 M65.22 282.00 v-2.60 M65.22 31.50 v2.60 M81.44 282.00 v-2.60 M81.44 31.50 v2.60 M97.66 282.00 v-2.60 M97.66 31.50 v2.60 M113.88 282.00 v-2.60 M113.88 31.50 v2.60 M130.10 282.00 v-4.20 M130.10 31.50 v4.20 M146.32 282.00 v-2.60 M146.32 31.50 v2.60 M162.54 282.00 v-2.60 M162.54 31.50 v2.60 M178.76 282.00 v-2.60 M178.76 31.50 v2.60 M194.98 282.00 v-2.60 M194.98 31.50 v2.60 M211.20 282.00 v-4.20 M211.20 31.50 v4.20 M227.42 282.00 v-2.60 M227.42 31.50 v2.60 M243.64 282.00 v-2.60 M243.64 31.50 v2.60 M259.86 282.00 v-2.60 M259.86 31.50 v2.60 M276.08 282.00 v-2.60 M276.08 31.50 v2.60 M292.30 282.00 v-4.20 M292.30 31.50 v4.20 M308.52 282.00 v-2.60 M308.52 31.50 v2.60 M324.74 282.00 v-2.60 M324.74 31.50 v2.60 M340.96 282.00 v-2.60 M340.96 31.50 v2.60 M357.18 282.00 v-2.60 M357.18 31.50 v2.60 M373.40 282.00 v-4.20 M373.40 31.50 v4.20 M389.62 282.00 v-2.60 M389.62 31.50 v2.60 M405.84 282.00 v-2.60 M405.84 31.50 v2.60 M422.06 282.00 v-2.60 M422.06 31.50 v2.60 M438.28 282.00 v-2.60 M438.28 31.50 v2.60 M454.50 282.00 v-4.20 M454.50 31.50 v4.20 M49.00 282.00 h4.20 M454.50 282.00 h-4.20 M49.00 269.47 h2.60 M454.50 269.47 h-2.60 M49.00 256.95 h2.60 M454.50 256.95 h-2.60 M49.00 244.43 h2.60 M454.50 244.43 h-2.60 M49.00 231.90 h2.60 M454.50 231.90 h-2.60 M49.00 219.38 h4.20 M454.50 219.38 h-4.20 M49.00 206.85 h2.60 M454.50 206.85 h-2.60 M49.00 194.32 h2.60 M454.50 194.32 h-2.60 M49.00 181.80 h2.60 M454.50 181.80 h-2.60 M49.00 169.27 h2.60 M454.50 169.27 h-2.60 M49.00 156.75 h4.20 M454.50 156.75 h-4.20 M49.00 144.23 h2.60 M454.50 144.23 h-2.60 M49.00 131.70 h2.60 M454.50 131.70 h-2.60 M49.00 119.18 h2.60 M454.50 119.18 h-2.60 M49.00 106.65 h2.60 M454.50 106.65 h-2.60 M49.00 94.13 h4.20 M454.50 94.13 h-4.20 M49.00 81.60 h2.60 M454.50 81.60 h-2.60 M49.00 69.08 h2.60 M454.50 69.08 h-2.60 M49.00 56.55 h2.60 M454.50 56.55 h-2.60 M49.00 44.03 h2.60 M454.50 44.03 h-2.60 M49.00 31.50 h4.20 M454.50 31.50 h-4.20"/>
</g>
<g fill="#666666" font-size="16.4px">
<text x="49.00" y="299.4" text-anchor="middle">5</text>
<text x="130.10" y="299.4" text-anchor="middle">6</text>
<text x="211.20" y="299.4" text-anchor="middle">7</text>
<text x="292.30" y="299.4" text-anchor="middle">8</text>
<text x="373.40" y="299.4" text-anchor="middle">9</text>
<text x="454.50" y="299.4" text-anchor="middle">10</text>
<text x="44.9" y="286.80" text-anchor="end">0.4</text>
<text x="44.9" y="224.18" text-anchor="end">0.5</text>
<text x="44.9" y="161.55" text-anchor="end">0.6</text>
<text x="44.9" y="98.93" text-anchor="end">0.7</text>
<text x="44.9" y="36.30" text-anchor="end">0.8</text>
</g>
<g font-size="19px" fill="#666666"><text x="211" y="17" font-size="20.5px" font-style="italic">a</text><text x="227.2" y="18" font-size="20px">=</text><text x="244.6" y="17" textLength="22.6" lengthAdjust="spacingAndGlyphs">0.1</text><text x="274" y="17" font-size="20px" font-style="italic" textLength="19" lengthAdjust="spacingAndGlyphs">M</text></g>
<text x="238" y="324" font-size="16.5px" font-style="italic" fill="#666666" textLength="28.2" lengthAdjust="spacing">b<tspan font-style="normal">/</tspan>M</text>
<g transform="translate(13.8,157) rotate(-90)"><text x="0" y="0" text-anchor="middle" font-size="17.5px" font-style="italic" fill="#666666">α</text></g><path d="M5.4 159 L2.6 156.6 L5.4 154.2" fill="none" stroke="#666666" stroke-width="0.9"/>
<rect x="483.15" y="70" width="16.8" height="199.2" fill="url(#cb)"/>
<path d="M499.5 70 V269.2" stroke="#000" stroke-opacity="0.13" stroke-width="0.9" fill="none"/>
<path d="M500.0 269.20 h5 M500.0 259.25 h3 M500.0 249.31 h3 M500.0 239.36 h3 M500.0 229.42 h5 M500.0 219.47 h3 M500.0 209.53 h3 M500.0 199.59 h3 M500.0 189.64 h5 M500.0 179.69 h3 M500.0 169.75 h3 M500.0 159.81 h3 M500.0 149.86 h5 M500.0 139.91 h3 M500.0 129.97 h3 M500.0 120.03 h3 M500.0 110.08 h5 M500.0 100.13 h3 M500.0 90.19 h3 M500.0 80.25 h3 M500.0 70.30 h5" stroke="#e2e2e2" stroke-width="0.8" fill="none"/>
<g fill="#000" font-size="15px">
<text x="509.4" y="272.50">0.</text>
<text x="509.4" y="232.72">0.2</text>
<text x="509.4" y="192.94">0.4</text>
<text x="509.4" y="153.16">0.6</text>
<text x="509.4" y="113.38">0.8</text>
<text x="509.4" y="73.60">1.0</text>
</g>
<text x="484.5" y="52.5" font-size="21px" font-style="italic" fill="#000">Q<tspan font-style="normal">/</tspan>M</text>
</svg>
</body></html>
